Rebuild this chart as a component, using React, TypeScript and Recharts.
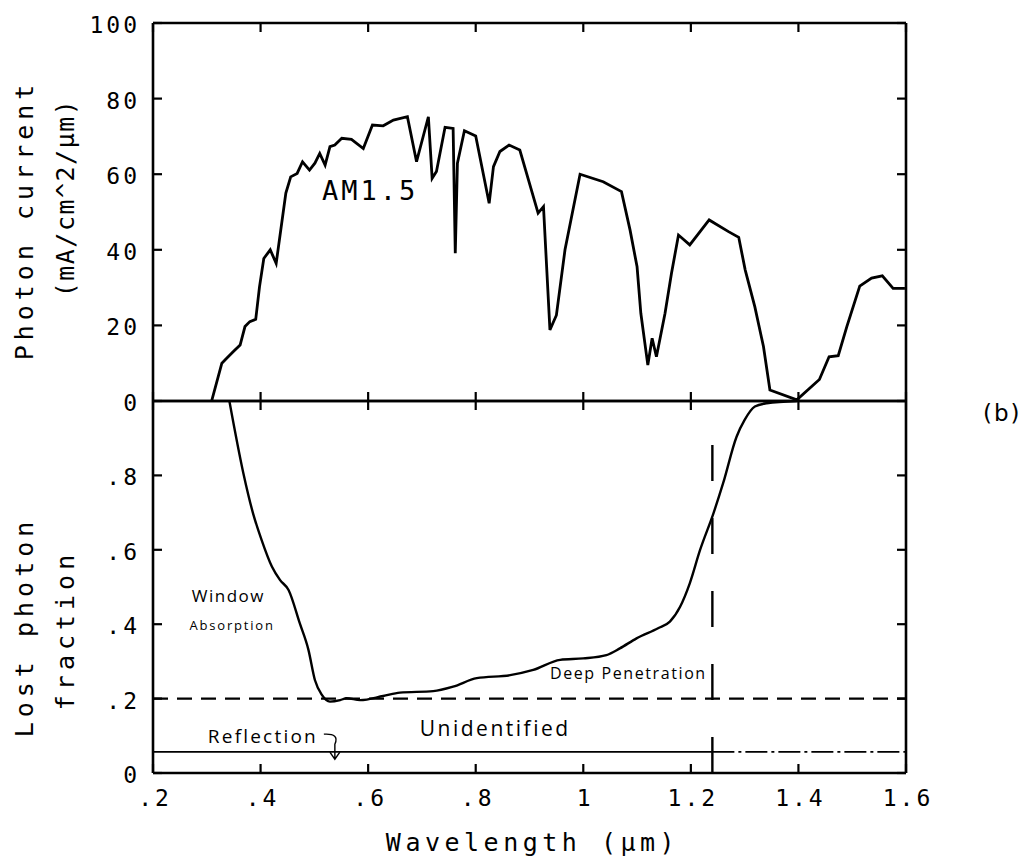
import React from 'react';
import { LineChart, Line, XAxis, YAxis, ReferenceLine, ReferenceDot } from 'recharts';

const W = 1033;
const H = 865;

// AM1.5 photon current spectrum (top panel)
const am15Wavelength = [
  0.309, 0.328, 0.337, 0.349, 0.362, 0.371, 0.380, 0.391, 0.398, 0.406,
  0.418, 0.429, 0.447, 0.456, 0.468, 0.478, 0.491, 0.501, 0.510, 0.520,
  0.529, 0.538, 0.551, 0.569, 0.591, 0.608, 0.628, 0.647, 0.673, 0.690,
  0.712, 0.719, 0.727, 0.743, 0.758, 0.762, 0.766, 0.779, 0.800, 0.825,
  0.833, 0.845, 0.862, 0.882, 0.916, 0.926, 0.938, 0.950, 0.966, 0.994,
  1.037, 1.071, 1.087, 1.100, 1.107, 1.120, 1.128, 1.136, 1.152, 1.164,
  1.177, 1.198, 1.234, 1.270, 1.289, 1.301, 1.319, 1.335, 1.347, 1.397,
  1.439, 1.457, 1.474, 1.490, 1.514, 1.536, 1.556, 1.576, 1.598,
];
const am15Current = [
  0, 10, 11.3, 13, 14.8, 19.7, 21, 21.6, 30.2, 37.7,
  40, 36.4, 55, 59.3, 60.2, 63.3, 61.1, 62.9, 65.5, 62.4,
  67.3, 67.7, 69.5, 69.2, 66.8, 73, 72.8, 74.3, 75.2, 63.3,
  75.2, 58.9, 60.7, 72.4, 72.1, 39.1, 62.9, 71.5, 70.1, 52.3,
  62, 66, 67.7, 66.4, 49.7, 51.4, 18.8, 22.7, 40, 60,
  58, 55.4, 45.2, 35.5, 23.2, 9.5, 16.6, 11.7, 23.2, 33.8,
  43.9, 41.3, 47.9, 44.8, 43.3, 34.7, 24.9, 14.4, 2.9, 0.3,
  5.7, 11.7, 12, 19.7, 30.4, 32.5, 33.1, 29.8, 29.8,
];

// lost photon fraction (bottom panel)
const lossWavelength = [
  0.342, 0.368, 0.386, 0.402, 0.421, 0.436, 0.452, 0.473, 0.489, 0.501,
  0.514, 0.529, 0.548, 0.560, 0.585, 0.628, 0.659, 0.721, 0.758, 0.802,
  0.864, 0.907, 0.957, 1.0, 1.043, 1.068, 1.099, 1.139, 1.161, 1.180,
  1.198, 1.217, 1.242, 1.260, 1.285, 1.300, 1.319, 1.341, 1.397,
];
const lossFraction = [
  1.0, 0.806, 0.698, 0.626, 0.555, 0.519, 0.492, 0.402, 0.331, 0.25,
  0.21, 0.192, 0.196, 0.201, 0.196, 0.207, 0.216, 0.22, 0.232, 0.255,
  0.263, 0.277, 0.304, 0.308, 0.317, 0.335, 0.362, 0.389, 0.407, 0.447,
  0.51, 0.599, 0.698, 0.779, 0.904, 0.949, 0.985, 0.994, 1.0,
];

const xTicks = [0.2, 0.4, 0.6, 0.8, 1.0, 1.2, 1.4, 1.6];
const xTickLabels = ['.2', '.4', '.6', '.8', '1', '1.2', '1.4', '1.6'];
const currentTicks = [0, 20, 40, 60, 80, 100];
const fractionTicks = [0, 0.2, 0.4, 0.6, 0.8];
const fractionTickLabels = ['0', '.2', '.4', '.6', '.8'];

const unidentifiedLevel = 0.2;
const reflectionLevel = 0.057;
const cutoffWavelength = 1.24;
const cutoffMarkTop = 0.895;

const am15Data = am15Wavelength.map((w, i) => ({ w, v: am15Current[i] }));
const lossData = lossWavelength.map((w, i) => ({ w, v: lossFraction[i] }));

const mono = '"DejaVu Sans Mono", monospace';
const hand = '"Open Sans", "DejaVu Sans", sans-serif';
const TICK = 9;

const tickText: React.CSSProperties = { fontFamily: mono, fontSize: 23, letterSpacing: 3, fill: '#000' };

type Side = 'left' | 'right' | 'top' | 'bottom';

const makeTick = (side: Side, label?: (v: number) => string) => (p: any) => {
  const { x, y, payload } = p;
  let line;
  if (side === 'left') line = <line x1={x} y1={y} x2={x + TICK} y2={y} />;
  else if (side === 'right') line = <line x1={x} y1={y} x2={x - TICK} y2={y} />;
  else if (side === 'top') line = <line x1={x} y1={y} x2={x} y2={y + TICK} />;
  else line = <line x1={x} y1={y} x2={x} y2={y - TICK} />;
  return (
    <g>
      <g stroke="#000" strokeWidth={2.2}>{line}</g>
      {label && side === 'left' && (
        <text x={x - 13} y={y + 2} textAnchor="end" dominantBaseline="central" style={tickText}>
          {label(payload.value)}
        </text>
      )}
      {label && side === 'bottom' && (
        <text x={x + 2} y={y + 33} textAnchor="middle" style={tickText}>
          {label(payload.value)}
        </text>
      )}
    </g>
  );
};

const xLabel = (v: number) => xTickLabels[xTicks.findIndex((t) => Math.abs(t - v) < 1e-6)] ?? '';
const fracLabel = (v: number) => fractionTickLabels[fractionTicks.findIndex((t) => Math.abs(t - v) < 1e-6)] ?? '';

const titleText: React.CSSProperties = { fontFamily: mono, fontSize: 25, fill: '#000' };

const yTitle = (line1: string, line2: string, dy1: number, dy2: number, spacing2: number) => (p: any) => {
  const { x, y, width, height } = p.viewBox;
  const ax = x + width;
  const cy = y + height / 2;
  const x1 = ax - 120;
  const x2 = ax - 79;
  return (
    <g>
      <text x={x1} y={cy + dy1} textAnchor="middle" transform={`rotate(-90, ${x1}, ${cy + dy1})`} style={{ ...titleText, letterSpacing: 5 }}>
        {line1}
      </text>
      <text x={x2} y={cy + dy2} textAnchor="middle" transform={`rotate(-90, ${x2}, ${cy + dy2})`} style={{ ...titleText, letterSpacing: spacing2 }}>
        {line2}
      </text>
    </g>
  );
};

const note = (text: string, style: React.CSSProperties) => (p: any) => {
  const { x, y } = p.viewBox;
  return (
    <text x={x} y={y} dominantBaseline="central" style={{ fill: '#000', ...style }}>
      {text}
    </text>
  );
};

const reflectionNote = (p: any) => {
  const { x, y } = p.viewBox;
  return (
    <g>
      <text x={x} y={y} dominantBaseline="central" style={{ fill: '#000', fontFamily: hand, fontSize: 19, letterSpacing: 2.2 }}>
        Reflection
      </text>
      <path
        d={`M ${x + 116} ${y - 2} Q ${x + 132} ${y - 3} ${x + 127} ${y + 8} L ${x + 127} ${y + 22} M ${x + 122} ${y + 16} L ${x + 127} ${y + 23} L ${x + 132} ${y + 16}`}
        stroke="#000"
        strokeWidth={1.4}
        fill="none"
      />
    </g>
  );
};

const axisLine = { stroke: '#000', strokeWidth: 2.6 };

export default function App() {
  return (
    <div style={{ position: 'absolute', left: 0, top: 0, width: W, height: H, background: '#fff' }}>
      <div style={{ position: 'absolute', left: 0, top: 0 }}>
        <LineChart width={W} height={H} data={am15Data} margin={{ top: 22, left: 152, right: W - 906 - 1, bottom: H - 401 - 1 }}>
          <XAxis dataKey="w" type="number" domain={[0.2, 1.6]} ticks={xTicks} allowDataOverflow height={1}
            axisLine={axisLine} tickLine={false} tickSize={0} tickMargin={0} tick={makeTick('bottom')} interval={0} />
          <XAxis xAxisId="top" dataKey="w" orientation="top" type="number" domain={[0.2, 1.6]} ticks={xTicks} allowDataOverflow height={1}
            axisLine={axisLine} tickLine={false} tickSize={0} tickMargin={0} tick={makeTick('top')} interval={0} />
          <YAxis type="number" domain={[0, 100]} ticks={currentTicks} allowDataOverflow width={1} interval={0}
            axisLine={axisLine} tickLine={false} tickSize={0} tickMargin={0} tick={makeTick('left', (v) => String(v))}
            label={{ content: yTitle('Photon current', '(mA/cm^2/µm)', 8, -14, 1.5) }} />
          <YAxis yAxisId="r" orientation="right" type="number" domain={[0, 100]} ticks={currentTicks} allowDataOverflow width={1} interval={0}
            axisLine={axisLine} tickLine={false} tickSize={0} tickMargin={0} tick={makeTick('right')} />
          <Line dataKey="v" type="linear" stroke="#000" strokeWidth={2.8} dot={false} isAnimationActive={false} />
          <ReferenceDot x={0.514} y={55.8} r={0} fill="none" stroke="none"
            label={{ content: note('AM1.5', { fontFamily: mono, fontSize: 27, letterSpacing: 3 }) }} />
        </LineChart>
      </div>
      <div style={{ position: 'absolute', left: 0, top: 0 }}>
        <LineChart width={W} height={H} data={lossData} margin={{ top: 400, left: 152, right: W - 906 - 1, bottom: H - 773 - 1 }}>
          <XAxis dataKey="w" type="number" domain={[0.2, 1.6]} ticks={xTicks} allowDataOverflow height={1} interval={0}
            axisLine={axisLine} tickLine={false} tickSize={0} tickMargin={0} tick={makeTick('bottom', xLabel)}
            label={{
              content: (p: any) => (
                <text x={p.viewBox.x + p.viewBox.width / 2 + 3} y={p.viewBox.y + 78} textAnchor="middle" style={{ ...titleText, letterSpacing: 4.5 }}>
                  Wavelength (µm)
                </text>
              ),
            }} />
          <XAxis xAxisId="top" dataKey="w" orientation="top" type="number" domain={[0.2, 1.6]} ticks={xTicks} allowDataOverflow height={1} interval={0}
            axisLine={axisLine} tickLine={false} tickSize={0} tickMargin={0} tick={makeTick('top')} />
          <YAxis type="number" domain={[0, 1]} ticks={fractionTicks} allowDataOverflow width={1} interval={0}
            axisLine={axisLine} tickLine={false} tickSize={0} tickMargin={0} tick={makeTick('left', fracLabel)}
            label={{ content: yTitle('Lost photon', 'fraction', 40, 43, 5) }} />
          <YAxis yAxisId="r" orientation="right" type="number" domain={[0, 1]} ticks={fractionTicks} allowDataOverflow width={1} interval={0}
            axisLine={axisLine} tickLine={false} tickSize={0} tickMargin={0} tick={makeTick('right')} />
          <ReferenceLine y={unidentifiedLevel} stroke="#000" strokeWidth={2.2} strokeDasharray="15 9" />
          <ReferenceLine segment={[{ x: 0.2, y: reflectionLevel }, { x: cutoffWavelength, y: reflectionLevel }]} stroke="#000" strokeWidth={1.8} />
          <ReferenceLine segment={[{ x: cutoffWavelength, y: reflectionLevel }, { x: 1.6, y: reflectionLevel }]} stroke="#000" strokeWidth={1.8} strokeDasharray="22 4 3 4" />
          <ReferenceLine segment={[{ x: cutoffWavelength, y: 0 }, { x: cutoffWavelength, y: cutoffMarkTop }]} stroke="#000" strokeWidth={2.4} strokeDasharray="36 37" />
          <Line dataKey="v" type="monotone" stroke="#000" strokeWidth={2.4} dot={false} isAnimationActive={false} />
          <ReferenceDot x={0.272} y={0.476} r={0} fill="none" stroke="none"
            label={{ content: note('Window', { fontFamily: hand, fontSize: 17, letterSpacing: 1.5 }) }} />
          <ReferenceDot x={0.268} y={0.398} r={0} fill="none" stroke="none"
            label={{ content: note('Absorption', { fontFamily: hand, fontSize: 13, letterSpacing: 1.8 }) }} />
          <ReferenceDot x={0.938} y={0.269} r={0} fill="none" stroke="none"
            label={{ content: note('Deep Penetration', { fontFamily: hand, fontSize: 16, letterSpacing: 1.6 }) }} />
          <ReferenceDot x={0.696} y={0.121} r={0} fill="none" stroke="none"
            label={{ content: note('Unidentified', { fontFamily: hand, fontSize: 21, letterSpacing: 2.5 }) }} />
          <ReferenceDot x={0.302} y={0.099} r={0} fill="none" stroke="none" label={{ content: reflectionNote }} />
        </LineChart>
      </div>
      <div style={{ position: 'absolute', left: 983, top: 400, fontFamily: '"DejaVu Sans", sans-serif', fontSize: 23, letterSpacing: 2 }}>(b)</div>
    </div>
  );
}
